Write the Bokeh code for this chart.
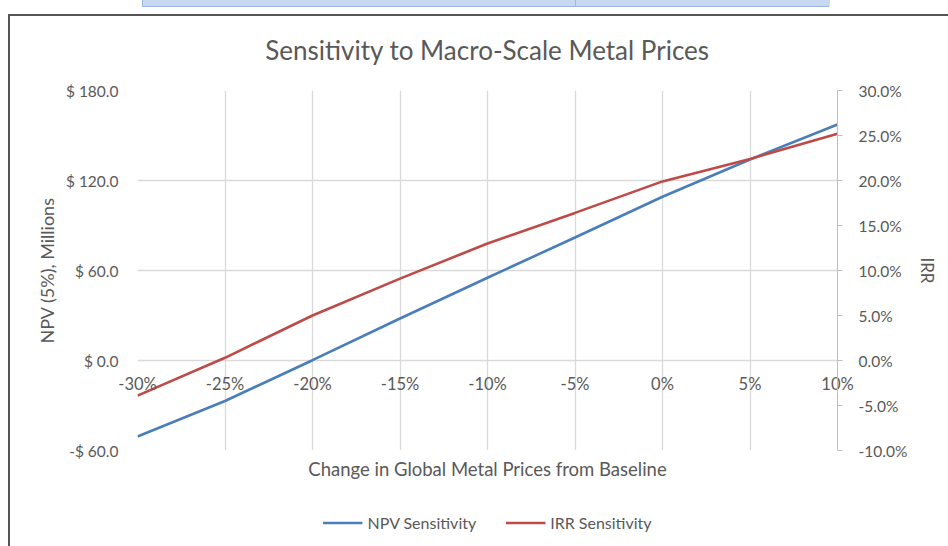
from bokeh.plotting import figure
from bokeh.layouts import column
from bokeh.models import (LinearAxis, Range1d, FixedTicker, Legend, LegendItem)
from bokeh.embed import file_html
from bokeh.resources import INLINE

# ---- data ----
change = [-0.30, -0.25, -0.20, -0.15, -0.10, -0.05, 0.00, 0.05, 0.10]
npv = [-50.7, -27.0, 0.2, 28.0, 55.2, 82.0, 109.2, 134.0, 157.3]
irr = [-3.9, 0.3, 5.0, 9.1, 13.0, 16.4, 19.9, 22.4, 25.2]

x_ticks = [-0.30, -0.25, -0.20, -0.15, -0.10, -0.05, 0.00, 0.05, 0.10]
x_labels = ["-30%", "-25%", "-20%", "-15%", "-10%", "-5%", "0%", "5%", "10%"]
npv_ticks = [-60, 0, 60, 120, 180]
npv_labels = ["-$ 60.0", "$ 0.0", "$ 60.0", "$ 120.0", "$ 180.0"]
irr_ticks = [-10, -5, 0, 5, 10, 15, 20, 25, 30]
irr_labels = ["-10.0%", "-5.0%", "0.0%", "5.0%", "10.0%", "15.0%", "20.0%", "25.0%", "30.0%"]
series_names = ["NPV Sensitivity", "IRR Sensitivity"]

FONT = "Lato"
TXT = "#595959"
GRID = "#d9d9d9"
AXIS = "#bfbfbf"
BLUE = "#4a7ebb"
RED = "#be4b48"
FRAME = "#555555"

p = figure(width=948, height=482, output_backend="svg", toolbar_location=None,
           x_range=Range1d(-0.30, 0.10), y_range=Range1d(-60, 180),
           min_border_left=137, min_border_right=111, min_border_top=90,
           min_border_bottom=32, outline_line_color=None,
           background_fill_color="white", border_fill_alpha=0,
           title="Sensitivity to Macro-Scale Metal Prices",
           styles={
               "background-image": ("linear-gradient(%s,%s), linear-gradient(%s,%s), "
                                    "linear-gradient(#9db8e0,#9db8e0), linear-gradient(#c6d9f1,#c6d9f1), "
                                    "linear-gradient(#9db8e0,#9db8e0)") % (FRAME, FRAME, FRAME, FRAME),
               "background-size": "100% 2px, 2px 100%, 1px 6px, 687px 6px, 687px 7px",
               "background-position": "8px 14px, 8px 14px, 575px 0px, 143px 0px, 142px 0px",
               "background-repeat": "no-repeat",
           })
p.extra_y_ranges = {"irr": Range1d(-10, 30)}

p.title.align = "center"
p.title.text_font = FONT
p.title.text_font_size = "26px"
p.title.text_font_style = "normal"
p.title.text_color = TXT
p.title.standoff = 49

# category axis: labels pulled up to sit just under the zero line
xa = p.xaxis[0]
xa.ticker = FixedTicker(ticks=x_ticks)
xa.major_label_overrides = {t: l for t, l in zip(x_ticks, x_labels)}
xa.axis_line_color = None
xa.major_tick_line_color = None
xa.major_tick_out = 0
xa.major_tick_in = 0
xa.minor_tick_line_color = None
xa.major_label_standoff = -77
xa.major_label_text_font = FONT
xa.major_label_text_font_size = "16.5px"
xa.major_label_text_color = TXT
xa.axis_label = "Change in Global Metal Prices from Baseline"
xa.axis_label_standoff = 61
xa.axis_label_text_font = FONT
xa.axis_label_text_font_size = "18.5px"
xa.axis_label_text_font_style = "normal"
xa.axis_label_text_color = TXT

# left axis
ya = p.yaxis[0]
ya.ticker = FixedTicker(ticks=npv_ticks)
ya.major_label_overrides = {t: l for t, l in zip(npv_ticks, npv_labels)}
ya.axis_line_color = None
ya.major_tick_line_color = None
ya.major_tick_out = 0
ya.major_tick_in = 0
ya.minor_tick_line_color = None
ya.major_label_standoff = 19
ya.major_label_text_font = FONT
ya.major_label_text_font_size = "15.5px"
ya.major_label_text_color = TXT
ya.axis_label = "NPV (5%), Millions"
ya.axis_label_standoff = 5
ya.axis_label_text_font = FONT
ya.axis_label_text_font_size = "18px"
ya.axis_label_text_font_style = "normal"
ya.axis_label_text_color = TXT

# right axis
ra = LinearAxis(y_range_name="irr", ticker=FixedTicker(ticks=irr_ticks),
                major_label_overrides={t: l for t, l in zip(irr_ticks, irr_labels)},
                axis_line_color=AXIS, major_tick_line_color=AXIS, major_tick_in=0, major_tick_out=5,
                minor_tick_line_color=None, major_label_standoff=16,
                major_label_text_font=FONT, major_label_text_font_size="15.5px",
                major_label_text_color=TXT, axis_label="IRR", axis_label_standoff=7,
                axis_label_text_font=FONT, axis_label_text_font_size="17px",
                axis_label_text_font_style="normal", axis_label_text_color=TXT)
p.add_layout(ra, "right")

p.xgrid.ticker = FixedTicker(ticks=x_ticks)
p.ygrid.ticker = FixedTicker(ticks=npv_ticks)
p.xgrid.grid_line_color = GRID
p.ygrid.grid_line_color = GRID
p.xgrid.grid_line_width = 1.3
p.ygrid.grid_line_width = 1.3

p.line(change, npv, line_color=BLUE, line_width=2.6)
p.line(change, irr, line_color=RED, line_width=2.6, y_range_name="irr")

# legend strip below the chart (its series lie outside this strip's ranges)
p2 = figure(width=948, height=64, output_backend="svg", toolbar_location=None,
            x_range=Range1d(0, 1), y_range=Range1d(0, 1),
            min_border_left=26, min_border_right=0, min_border_top=16, min_border_bottom=0,
            outline_line_color=None, background_fill_alpha=0, border_fill_alpha=0,
            styles={
                "background-image": "linear-gradient(%s,%s)" % (FRAME, FRAME),
                "background-size": "2px 100%",
                "background-position": "8px 0px",
                "background-repeat": "no-repeat",
            })
p2.axis.visible = False
p2.grid.visible = False
l1 = p2.line(change, npv, line_color=BLUE, line_width=2.6)
l2 = p2.line(change, irr, line_color=RED, line_width=2.6)
leg = Legend(items=[LegendItem(label=series_names[0], renderers=[l1]),
                    LegendItem(label=series_names[1], renderers=[l2])],
             orientation="horizontal", location="center", border_line_color=None,
             background_fill_alpha=0, label_text_font=FONT, label_text_font_size="16px",
             label_text_color=TXT, glyph_width=40, glyph_height=16, spacing=29,
             label_standoff=5, padding=0, margin=0)
p2.add_layout(leg)

layout = column(p, p2, spacing=0)
open("out.html", "w").write(file_html(layout, INLINE))
